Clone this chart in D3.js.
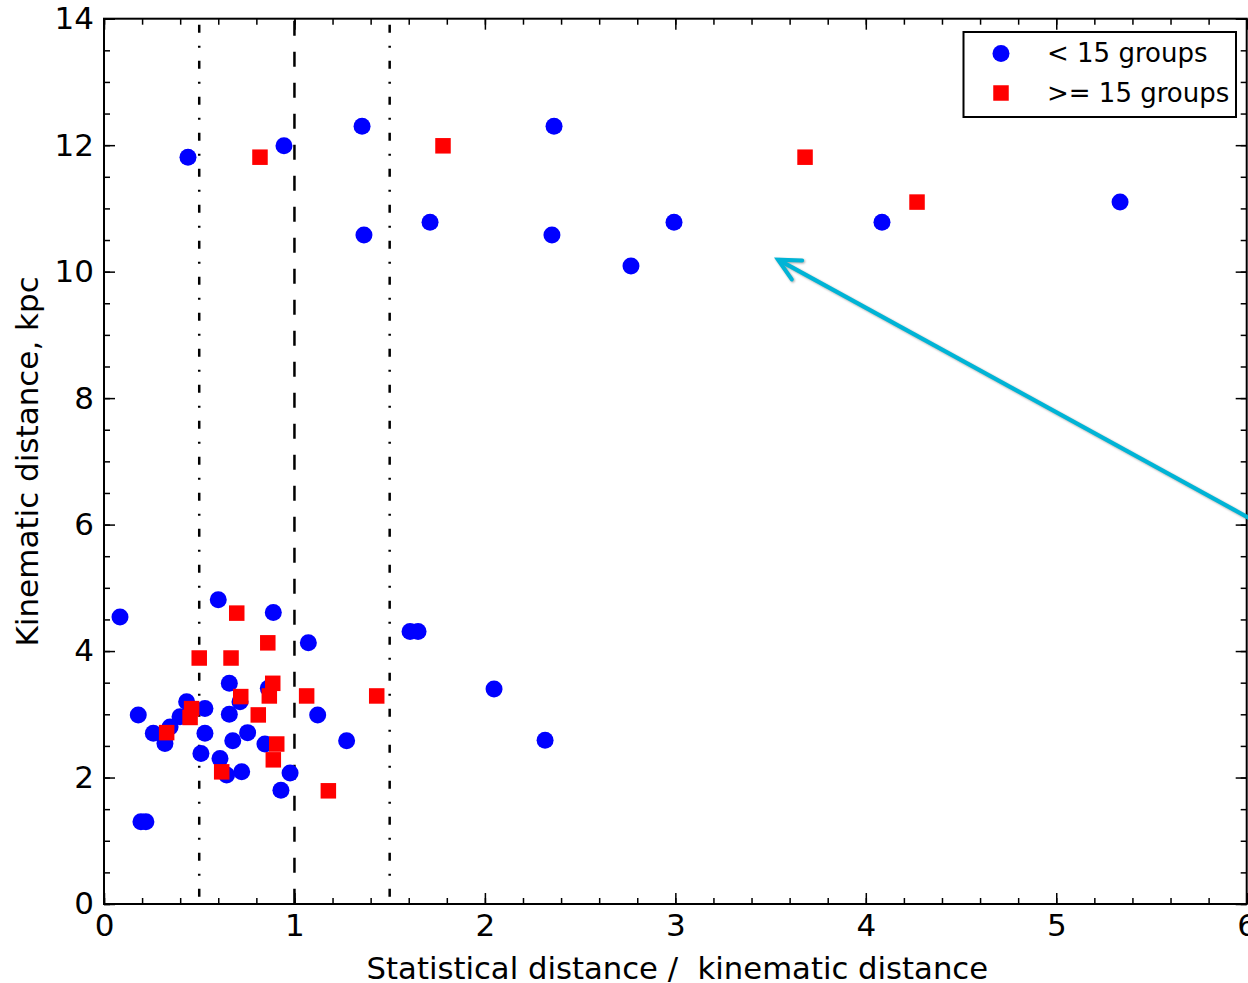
<!DOCTYPE html>
<html>
<head>
<meta charset="utf-8">
<script src="https://cdn.jsdelivr.net/npm/d3@7"></script>
<style>
  body { margin: 0; background: #fff; }
  text { font-family: "DejaVu Sans", sans-serif; fill: #000; }
</style>
</head>
<body>
<script>
// < 15 groups (blue circles)
var smallX = [0.441, 0.945, 1.355, 2.363, 1.365, 1.712, 2.352, 2.767, 2.993, 4.085, 5.335,
  0.084, 0.600, 0.889, 1.073, 1.607, 1.649, 2.048, 2.316, 0.658, 0.180, 0.434, 0.399, 0.347,
  0.259, 0.320, 0.530, 0.658, 0.714, 0.863, 0.530, 0.509, 0.609, 0.676, 0.754, 0.845, 0.723,
  0.644, 0.977, 0.929, 1.122, 1.274, 0.194, 0.220];
var smallY = [11.81, 11.99, 12.30, 12.30, 10.58, 10.78, 10.58, 10.09, 10.78, 10.78, 11.10,
  4.54, 4.81, 4.61, 4.13, 4.31, 4.31, 3.40, 2.59, 3.49, 2.99, 3.20, 2.96, 2.80,
  2.70, 2.54, 3.09, 3.00, 3.20, 3.41, 2.70, 2.38, 2.30, 2.58, 2.71, 2.53, 2.09,
  2.04, 2.07, 1.80, 2.99, 2.58, 1.30, 1.30];
// >= 15 groups (red squares)
var bigX = [0.819, 1.780, 3.681, 4.269,
  0.697, 0.860, 0.500, 0.667, 0.886, 0.718, 0.868, 1.064, 1.432, 0.460, 0.452, 0.810,
  0.329, 0.907, 0.889, 0.618, 1.178];
var bigY = [11.81, 11.99, 11.81, 11.10,
  4.60, 4.13, 3.89, 3.89, 3.49, 3.28, 3.29, 3.29, 3.29, 3.09, 2.95, 2.99,
  2.71, 2.53, 2.28, 2.09, 1.79];
var xTicks = [0, 1, 2, 3, 4, 5, 6];
var yTicks = [0, 2, 4, 6, 8, 10, 12, 14];
var refLines = [0.5, 1, 1.5];
var legendLabels = ["< 15 groups", ">= 15 groups"];

var width = 1248, height = 983;
var pLeft = 104, pTop = 18.7, pRight = 1246.7, pBottom = 904;

var svg = d3.select("body").append("svg")
    .attr("width", width)
    .attr("height", height);

var x = d3.scaleLinear().domain([0, 6]).range([pLeft, pRight]);
var y = d3.scaleLinear().domain([0, 14]).range([pBottom, pTop]);

var plot = svg.append("g");
plot.append("defs").append("clipPath").attr("id", "clip")
  .append("rect").attr("x", pLeft).attr("y", pTop)
  .attr("width", pRight - pLeft).attr("height", pBottom - pTop);

// vertical reference lines
plot.selectAll("line.ref")
  .data(refLines)
  .enter().append("line")
  .attr("class", "ref")
  .attr("x1", function(d) { return x(d); })
  .attr("x2", function(d) { return x(d); })
  .attr("y1", pTop).attr("y2", pBottom)
  .style("stroke", "#000")
  .style("stroke-width", "2.5px")
  .style("stroke-dasharray", function(d) { return d === 1 ? "15,16" : "8,13,2,13"; })
  .attr("stroke-dashoffset", function(d) { return d === 1 ? -2 : -6; });

var markers = plot.append("g").attr("clip-path", "url(#clip)");

markers.selectAll("circle")
  .data(d3.range(smallX.length))
  .enter().append("circle")
  .attr("cx", function(i) { return x(smallX[i]); })
  .attr("cy", function(i) { return y(smallY[i]); })
  .attr("r", 8.5)
  .style("fill", "#0000ff");

var sq = 15.5;
markers.selectAll("rect")
  .data(d3.range(bigX.length))
  .enter().append("rect")
  .attr("x", function(i) { return x(bigX[i]) - sq / 2; })
  .attr("y", function(i) { return y(bigY[i]) - sq / 2; })
  .attr("width", sq).attr("height", sq)
  .style("fill", "#ff0000");

// axes: ticks point inward on all four sides
function styleAxis(g) {
  g.select(".domain").remove();
  g.selectAll(".tick line").style("stroke", "#000").style("stroke-width", "1.5px");
  g.selectAll("text").style("font-size", "31px").style("font-family", "DejaVu Sans");
}
var xMinor = d3.range(0, 6.01, 0.2), yMinor = d3.range(0, 14.01, 0.5);

svg.append("g").attr("transform", "translate(0," + pBottom + ")")
  .call(d3.axisBottom(x).tickValues(xMinor).tickFormat("").tickSize(-6)).call(styleAxis);
svg.append("g").attr("transform", "translate(0," + pBottom + ")")
  .call(d3.axisBottom(x).tickValues(xTicks).tickFormat(d3.format("d")).tickSize(-11).tickPadding(10))
  .call(styleAxis);
svg.append("g").attr("transform", "translate(0," + pTop + ")")
  .call(d3.axisTop(x).tickValues(xMinor).tickFormat("").tickSize(-6)).call(styleAxis);
svg.append("g").attr("transform", "translate(0," + pTop + ")")
  .call(d3.axisTop(x).tickValues(xTicks).tickFormat("").tickSize(-11)).call(styleAxis);

svg.append("g").attr("transform", "translate(" + pLeft + ",0)")
  .call(d3.axisLeft(y).tickValues(yMinor).tickFormat("").tickSize(-6)).call(styleAxis);
svg.append("g").attr("transform", "translate(" + pLeft + ",0)")
  .call(d3.axisLeft(y).tickValues(yTicks).tickFormat(d3.format("d")).tickSize(-11).tickPadding(10))
  .call(styleAxis);
svg.append("g").attr("transform", "translate(" + pRight + ",0)")
  .call(d3.axisRight(y).tickValues(yMinor).tickFormat("").tickSize(-6)).call(styleAxis);
svg.append("g").attr("transform", "translate(" + pRight + ",0)")
  .call(d3.axisRight(y).tickValues(yTicks).tickFormat("").tickSize(-11)).call(styleAxis);

// frame
svg.append("rect")
  .attr("x", pLeft).attr("y", pTop)
  .attr("width", pRight - pLeft).attr("height", pBottom - pTop)
  .style("fill", "none").style("stroke", "#000").style("stroke-width", "2px");

// axis titles
svg.append("text")
  .attr("x", (pLeft + pRight) / 2 + 2).attr("y", 979)
  .attr("text-anchor", "middle")
  .style("font-size", "30.7px")
  .style("white-space", "pre")
  .text("Statistical distance /  kinematic distance");

svg.append("text")
  .attr("transform", "translate(38," + ((pTop + pBottom) / 2) + ")rotate(-90)")
  .attr("text-anchor", "middle")
  .style("font-size", "31px")
  .text("Kinematic distance, kpc");

// legend
var legend = svg.append("g");
legend.append("rect")
  .attr("x", 963.5).attr("y", 32).attr("width", 272.5).attr("height", 85)
  .style("fill", "#fff").style("stroke", "#000").style("stroke-width", "2px");
legend.append("circle").attr("cx", 1001).attr("cy", 53.5).attr("r", 8.5).style("fill", "#0000ff");
legend.append("rect").attr("x", 1001 - 7.75).attr("y", 93 - 7.75)
  .attr("width", 15.5).attr("height", 15.5).style("fill", "#ff0000");
legend.selectAll("text.lab")
  .data(legendLabels)
  .enter().append("text")
  .attr("class", "lab")
  .attr("x", 1047)
  .attr("y", function(d, i) { return 62 + i * 39.5; })
  .style("font-size", "26px")
  .text(function(d) { return d; });

// annotation arrow
var arrowColor = "#00b4d6";
svg.append("defs").append("marker")
  .attr("id", "head")
  .attr("viewBox", "0 0 10 10")
  .attr("refX", 9).attr("refY", 5)
  .attr("markerWidth", 24).attr("markerHeight", 24)
  .attr("markerUnits", "userSpaceOnUse")
  .attr("orient", "auto-start-reverse")
  .style("overflow", "visible")
  .append("path")
  .attr("d", "M0,0.5 L9,5 L0,9.5")
  .style("fill", "none").style("stroke", arrowColor).style("stroke-width", 1.7)
  .style("stroke-linecap", "round").style("stroke-linejoin", "miter");

svg.append("line")
  .attr("x1", 778).attr("y1", 259.6)
  .attr("x2", 1260).attr("y2", 524)
  .attr("marker-start", "url(#head)")
  .style("stroke", arrowColor)
  .style("stroke-width", "4.2px")
  .style("filter", "drop-shadow(1px 1px 1px rgba(0,0,0,0.35))");
</script>
</body>
</html>
